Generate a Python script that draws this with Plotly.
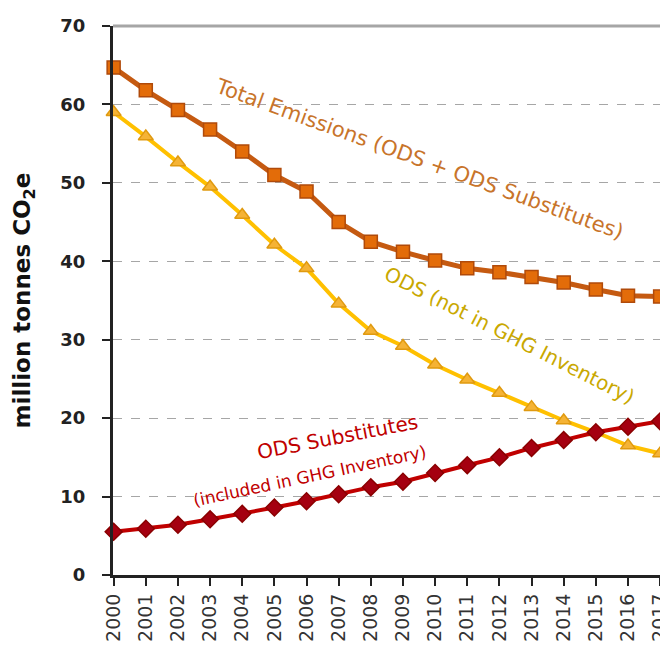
import plotly.graph_objects as go

years = list(range(2000, 2018))
total_emissions = [64.7, 61.8, 59.3, 56.8, 54.0, 51.0, 48.9, 45.0, 42.5, 41.2,
                   40.1, 39.1, 38.6, 38.0, 37.3, 36.4, 35.6, 35.5]
ods = [59.0, 55.9, 52.6, 49.5, 45.9, 42.1, 39.1, 34.6, 31.1, 29.2,
       26.8, 24.9, 23.2, 21.4, 19.7, 18.2, 16.5, 15.5]
ods_substitutes = [5.5, 5.9, 6.4, 7.1, 7.8, 8.6, 9.4, 10.3, 11.2, 11.9,
                   13.0, 14.0, 15.0, 16.2, 17.2, 18.2, 18.9, 19.6]
y_ticks = [0, 10, 20, 30, 40, 50, 60, 70]

FONT = "DejaVu Sans"

fig = go.Figure()
fig.add_trace(go.Scatter(
    x=years, y=total_emissions, mode="lines+markers",
    line=dict(color="#C55A11", width=5),
    marker=dict(symbol="square", size=13, color="#E36C09",
                line=dict(color="#B04A0A", width=1.5)),
    cliponaxis=False, showlegend=False))
fig.add_trace(go.Scatter(
    x=years, y=ods, mode="lines+markers",
    line=dict(color="#FFC000", width=4),
    marker=dict(symbol="triangle-up", size=13, color="#F5B335",
                line=dict(color="#E09A10", width=1.5)),
    cliponaxis=False, showlegend=False))
fig.add_trace(go.Scatter(
    x=years, y=ods_substitutes, mode="lines+markers",
    line=dict(color="#C00000", width=4),
    marker=dict(symbol="diamond", size=13, color="#A50010",
                line=dict(color="#8A0000", width=1.5)),
    cliponaxis=False, showlegend=False))

annotations = [
    dict(x=2009.5, y=53.0, text="Total Emissions (ODS + ODS Substitutes)",
         textangle=20, font=dict(family=FONT, size=21, color="#C8742A")),
    dict(x=2012.3, y=30.6, text="ODS (not in GHG Inventory)",
         textangle=27, font=dict(family=FONT, size=20, color="#C9A800")),
    dict(x=2006.95, y=17.6, text="ODS Substitutes",
         textangle=-11, font=dict(family=FONT, size=20, color="#C00000")),
    dict(x=2006.1, y=12.6, text="(included in GHG Inventory)",
         textangle=-12, font=dict(family=FONT, size=17, color="#C00000")),
]
for a in annotations:
    a.update(xref="x", yref="y", showarrow=False)

fig.update_layout(
    width=668, height=648,
    margin=dict(l=105, r=6, t=18, b=81),
    paper_bgcolor="white", plot_bgcolor="white",
    annotations=annotations,
    shapes=[
        dict(type="line", xref="paper", yref="paper", x0=0, x1=1, y0=1, y1=1,
             line=dict(color="#A6A6A6", width=3)),
        dict(type="line", xref="paper", yref="paper", x0=1, x1=1, y0=0, y1=1,
             line=dict(color="#B0B0B0", width=2)),
    ],
)
fig.update_xaxes(
    range=[1999.98, 2017.12], tickvals=years, ticktext=[str(y) for y in years],
    tickangle=-90, tickfont=dict(family=FONT, size=19, color="#333333"),
    ticklabeloverflow="allow",
    showgrid=False, zeroline=False,
    showline=True, linecolor="#222222", linewidth=3,
    ticks="outside", ticklen=8, tickwidth=2, tickcolor="#222222",
)
fig.update_yaxes(
    range=[0, 70], tickvals=y_ticks,
    tickfont=dict(family=FONT, size=18, color="#222222", weight="bold"),
    ticklabelstandoff=13,
    showgrid=True, gridcolor="#A6A6A6", griddash="dash", gridwidth=1,
    zeroline=False,
    showline=True, linecolor="#222222", linewidth=3,
    ticks="outside", ticklen=8, tickwidth=2, tickcolor="#222222",
    title=dict(text="million tonnes CO<sub>2</sub>e",
               font=dict(family=FONT, size=23, color="#111111", weight="bold"),
               standoff=24),
)

fig.write_html("out.html")
